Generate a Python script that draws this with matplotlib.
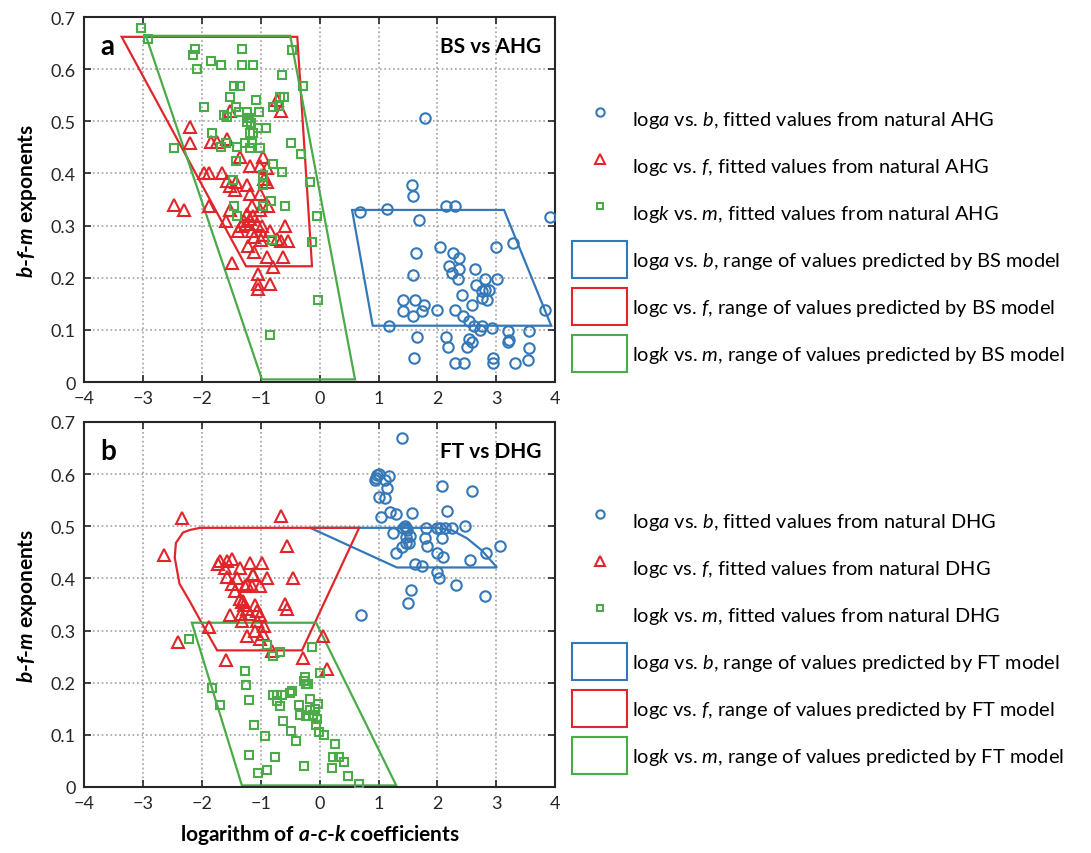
import matplotlib
matplotlib.use('Agg')
import matplotlib.pyplot as plt
from matplotlib.lines import Line2D
from matplotlib.patches import Patch, Polygon

plt.rcParams['font.family'] = ['Lato', 'DejaVu Sans']
plt.rcParams['mathtext.fontset'] = 'custom'
plt.rcParams['mathtext.rm'] = 'Lato'
plt.rcParams['mathtext.it'] = 'Lato:italic'
plt.rcParams['mathtext.bf'] = 'Lato:bold'
plt.rcParams['mathtext.bfit'] = 'Lato:bold:italic'

BLUE = '#3478b8'
RED = '#e0262b'
GREEN = '#4aab48'

# ---- panel a: BS vs AHG (log coefficient, exponent) ----
ahg_ab = [(1.79, 0.506), (1.56, 0.378), (1.58, 0.357), (0.69, 0.327), (1.15, 0.331),
          (2.15, 0.338), (2.29, 0.338), (1.69, 0.311), (3.91, 0.317), (3.29, 0.267),
          (2.04, 0.258), (3.00, 0.258), (1.64, 0.247), (2.27, 0.247), (2.36, 0.237),
          (2.20, 0.222), (2.36, 0.217), (2.63, 0.217), (2.24, 0.210), (1.59, 0.205),
          (2.35, 0.197), (2.81, 0.198), (3.01, 0.197), (2.66, 0.187), (2.75, 0.174),
          (2.80, 0.177), (2.88, 0.177), (2.41, 0.167), (2.75, 0.161), (2.84, 0.157),
          (1.41, 0.157), (1.61, 0.157), (1.77, 0.147), (2.59, 0.148), (1.41, 0.137),
          (1.74, 0.137), (1.99, 0.138), (2.30, 0.138), (3.82, 0.138), (1.59, 0.127),
          (2.44, 0.127), (2.53, 0.117), (2.62, 0.107), (2.76, 0.107), (2.73, 0.100),
          (2.92, 0.103), (1.17, 0.107), (3.20, 0.097), (3.55, 0.097), (1.66, 0.087),
          (2.15, 0.087), (2.53, 0.082), (2.59, 0.077), (3.22, 0.081), (3.20, 0.076),
          (2.17, 0.067), (2.50, 0.067), (3.55, 0.065), (1.60, 0.047), (2.95, 0.047),
          (3.53, 0.043), (2.29, 0.036), (2.45, 0.036), (2.94, 0.036), (3.32, 0.036)]

ahg_cf = [(-0.73, 0.541), (-0.65, 0.520), (-1.53, 0.520), (-2.20, 0.490), (-2.20, 0.458),
          (-1.85, 0.460), (-1.75, 0.460), (-1.57, 0.466), (-1.36, 0.431), (-0.97, 0.431),
          (-1.19, 0.414), (-1.02, 0.414), (-0.89, 0.410), (-1.97, 0.401), (-1.87, 0.401),
          (-1.66, 0.401), (-1.57, 0.386), (-1.42, 0.383), (-1.53, 0.376), (-1.44, 0.368),
          (-1.23, 0.378), (-0.94, 0.390), (-0.89, 0.384), (-1.18, 0.361), (-1.02, 0.361),
          (-2.48, 0.339), (-2.31, 0.329), (-1.87, 0.338), (-1.53, 0.329), (-1.59, 0.309),
          (-1.15, 0.338), (-1.01, 0.329), (-0.87, 0.338), (-1.23, 0.322), (-1.13, 0.319),
          (-1.18, 0.313), (-1.28, 0.309), (-1.25, 0.303), (-1.34, 0.300), (-1.06, 0.303),
          (-1.38, 0.289), (-1.15, 0.289), (-0.98, 0.300), (-0.85, 0.289), (-0.59, 0.300),
          (-1.11, 0.278), (-1.00, 0.272), (-0.96, 0.281), (-0.73, 0.274), (-0.65, 0.271),
          (-0.53, 0.271), (-1.21, 0.260), (-1.11, 0.249), (-1.48, 0.229), (-0.89, 0.239),
          (-0.62, 0.239), (-0.80, 0.220), (-1.04, 0.207), (-1.04, 0.188), (-0.85, 0.188),
          (-1.04, 0.178)]

ahg_km = [(-3.03, 0.679), (-2.91, 0.658), (-2.12, 0.639), (-2.15, 0.628), (-1.31, 0.638),
          (-0.47, 0.637), (-1.85, 0.615), (-1.67, 0.608), (-1.31, 0.608), (-1.14, 0.608),
          (-2.09, 0.601), (-0.64, 0.588), (-1.45, 0.567), (-1.36, 0.567), (-0.29, 0.567),
          (-1.53, 0.547), (-1.08, 0.541), (-0.67, 0.547), (-0.60, 0.547), (-1.96, 0.527),
          (-1.42, 0.527), (-0.80, 0.527), (-0.69, 0.529), (-1.23, 0.517), (-1.03, 0.517),
          (-1.37, 0.517), (-1.63, 0.513), (-1.58, 0.508), (-1.20, 0.506), (-1.24, 0.498),
          (-1.16, 0.497), (-1.04, 0.488), (-0.91, 0.488), (-1.82, 0.478), (-1.19, 0.478),
          (-1.13, 0.478), (-2.47, 0.448), (-1.67, 0.450), (-1.59, 0.458), (-1.27, 0.458),
          (-1.15, 0.458), (-1.41, 0.450), (-1.18, 0.448), (-1.01, 0.448), (-0.49, 0.458),
          (-0.31, 0.437), (-1.42, 0.424), (-0.79, 0.418), (-0.64, 0.403), (-0.17, 0.384),
          (-0.97, 0.397), (-1.47, 0.387), (-0.97, 0.378), (-1.45, 0.338), (-1.40, 0.318),
          (-0.97, 0.338), (-0.83, 0.347), (-0.59, 0.338), (-0.04, 0.318), (-0.81, 0.272),
          (-0.13, 0.268), (-0.03, 0.158), (-0.85, 0.090)]

bs_ab = [(0.55, 0.330), (3.13, 0.330), (3.93, 0.108), (0.90, 0.108)]
bs_cf = [(-3.36, 0.662), (-0.38, 0.662), (-0.13, 0.222), (-1.25, 0.222)]
bs_km = [(-2.95, 0.664), (-0.50, 0.664), (0.60, 0.005), (-0.98, 0.005)]

# ---- panel b: FT vs DHG ----
dhg_ab = [(1.39, 0.669), (0.98, 0.598), (0.95, 0.592), (0.94, 0.588), (1.01, 0.600),
          (1.17, 0.597), (1.11, 0.588), (1.15, 0.573), (2.07, 0.577), (2.58, 0.568),
          (1.00, 0.556), (1.11, 0.554), (2.16, 0.530), (1.20, 0.528), (1.29, 0.523),
          (1.56, 0.526), (1.04, 0.518), (2.47, 0.501), (1.42, 0.497), (1.47, 0.497),
          (1.48, 0.492), (1.45, 0.500), (1.81, 0.497), (1.99, 0.497), (2.04, 0.497),
          (2.12, 0.497), (2.25, 0.497), (1.24, 0.488), (1.53, 0.482), (1.46, 0.479),
          (1.78, 0.478), (2.07, 0.478), (1.47, 0.468), (1.52, 0.468), (1.40, 0.460),
          (1.82, 0.462), (3.06, 0.462), (1.30, 0.448), (2.00, 0.448), (2.09, 0.442),
          (2.82, 0.448), (2.55, 0.436), (1.61, 0.428), (1.74, 0.424), (1.99, 0.412),
          (2.03, 0.401), (2.31, 0.388), (2.80, 0.367), (1.55, 0.377), (1.50, 0.353),
          (0.70, 0.329)]

dhg_cf = [(-2.34, 0.516), (-0.66, 0.520), (-0.56, 0.463), (-2.65, 0.445), (-1.69, 0.434),
          (-1.58, 0.434), (-1.49, 0.437), (-1.72, 0.428), (-1.35, 0.420), (-1.18, 0.430),
          (-0.98, 0.430), (-1.13, 0.409), (-1.61, 0.420), (-1.58, 0.402), (-1.41, 0.400),
          (-1.24, 0.389), (-1.15, 0.386), (-1.01, 0.386), (-0.90, 0.400), (-0.46, 0.400),
          (-1.49, 0.389), (-1.44, 0.375), (-1.35, 0.361), (-1.30, 0.357), (-1.32, 0.354),
          (-0.59, 0.351), (-0.56, 0.341), (-1.13, 0.407), (-1.27, 0.385), (-1.10, 0.349),
          (-1.28, 0.349), (-1.24, 0.341), (-1.34, 0.332), (-1.19, 0.332), (-1.06, 0.338),
          (-1.02, 0.329), (-1.52, 0.330), (-1.32, 0.319), (-1.07, 0.319), (-0.94, 0.309),
          (-1.87, 0.306), (-1.10, 0.300), (-0.97, 0.293), (-1.24, 0.290), (-1.02, 0.284),
          (0.05, 0.290), (-2.40, 0.279), (-0.81, 0.261), (-1.59, 0.244), (-0.28, 0.247),
          (0.12, 0.226)]

dhg_km = [(-2.21, 0.283), (-0.89, 0.272), (-0.67, 0.258), (-0.80, 0.251), (-0.13, 0.268),
          (-1.27, 0.222), (0.01, 0.219), (-1.82, 0.190), (-1.25, 0.196), (-0.25, 0.210),
          (-0.26, 0.204), (-0.24, 0.198), (-0.19, 0.198), (-0.47, 0.185), (-0.50, 0.180),
          (-0.80, 0.176), (-0.73, 0.176), (-0.64, 0.176), (-1.20, 0.167), (-0.16, 0.169),
          (-0.73, 0.164), (-1.69, 0.157), (-0.67, 0.155), (-0.35, 0.157), (-0.03, 0.159),
          (-0.16, 0.148), (-0.08, 0.150), (-0.34, 0.138), (-0.24, 0.137), (-0.11, 0.138),
          (-0.05, 0.130), (-0.62, 0.127), (-0.07, 0.118), (-1.11, 0.118), (-0.49, 0.108),
          (-0.01, 0.106), (0.07, 0.100), (-0.93, 0.098), (-0.41, 0.089), (0.26, 0.083),
          (-1.20, 0.061), (-0.76, 0.058), (0.22, 0.058), (0.32, 0.058), (-0.26, 0.041),
          (0.21, 0.037), (0.41, 0.047), (-0.90, 0.032), (-1.04, 0.027), (0.48, 0.022),
          (0.66, 0.006)]

ft_ab = [(-0.16, 0.497), (2.00, 0.497), (2.25, 0.492), (2.50, 0.477), (2.75, 0.454),
         (3.01, 0.421), (1.31, 0.421)]
ft_cf = [(-2.03, 0.497), (0.67, 0.497), (-0.30, 0.262), (-1.74, 0.262), (-1.98, 0.310),
         (-2.20, 0.355), (-2.38, 0.390), (-2.46, 0.440), (-2.44, 0.468), (-2.32, 0.488),
         (-2.20, 0.493)]
ft_km = [(-2.17, 0.315), (-0.06, 0.315), (1.30, 0.003), (-1.32, 0.003)]

x_ticks = [-4, -3, -2, -1, 0, 1, 2, 3, 4]
y_ticks = [0, 0.1, 0.2, 0.3, 0.4, 0.5, 0.6, 0.7]
y_ticklabels = ['0', '0.1', '0.2', '0.3', '0.4', '0.5', '0.6', '0.7']

fig = plt.figure(figsize=(10.91, 8.54), dpi=100)
ax_a = fig.add_axes([0.077, 0.5515, 0.432, 0.4274])
ax_b = fig.add_axes([0.077, 0.0773, 0.432, 0.4274])


def draw_panel(ax, pts_ab, pts_cf, pts_km, poly_ab, poly_cf, poly_km, letter, title):
    # model ranges
    for poly, col in [(poly_ab, BLUE), (poly_cf, RED), (poly_km, GREEN)]:
        ax.add_patch(Polygon(poly, closed=True, fill=False, edgecolor=col, lw=1.6, zorder=2))
    # fitted values
    ax.plot([p[0] for p in pts_ab], [p[1] for p in pts_ab], 'o', ls='none', ms=7.5,
            mfc='none', mec=BLUE, mew=1.5, zorder=3)
    ax.plot([p[0] for p in pts_cf], [p[1] for p in pts_cf], '^', ls='none', ms=8,
            mfc='none', mec=RED, mew=1.5, zorder=3)
    ax.plot([p[0] for p in pts_km], [p[1] for p in pts_km], 's', ls='none', ms=5.5,
            mfc='none', mec=GREEN, mew=1.5, zorder=3)

    ax.set_xlim(-4, 4)
    ax.set_ylim(0, 0.7)
    ax.set_xticks(x_ticks)
    ax.set_yticks(y_ticks)
    ax.set_yticklabels(y_ticklabels)
    ax.grid(True, ls=':', color='#a0a0a0', lw=1.2)
    ax.set_axisbelow(True)
    ax.tick_params(direction='in', top=True, right=True, length=5, width=1.2,
                   labelsize=13, colors='#262626', pad=6)
    for s in ax.spines.values():
        s.set_linewidth(1.5)
        s.set_color('#262626')
    ax.set_ylabel(r'$\mathbfit{b}$-$\mathbfit{f}$-$\mathbfit{m}$ exponents',
                  fontsize=15, fontweight='bold', labelpad=8)
    ax.text(0.035, 0.92, letter, transform=ax.transAxes, fontsize=20,
            fontweight='bold', va='center', ha='left')
    ax.text(0.97, 0.92, title, transform=ax.transAxes, fontsize=15,
            fontweight='bold', va='center', ha='right')


draw_panel(ax_a, ahg_ab, ahg_cf, ahg_km, bs_ab, bs_cf, bs_km, 'a', 'BS vs AHG')
draw_panel(ax_b, dhg_ab, dhg_cf, dhg_km, ft_ab, ft_cf, ft_km, 'b', 'FT vs DHG')
ax_b.set_xlabel(r'logarithm of $\mathbfit{a}$-$\mathbfit{c}$-$\mathbfit{k}$ coefficients',
                fontsize=15, fontweight='bold', labelpad=8)


def legend_for(model, data, top_px):
    handles = [
        Line2D([], [], marker='o', ls='none', ms=6, mfc='none', mec=BLUE, mew=1.5),
        Line2D([], [], marker='^', ls='none', ms=7, mfc='none', mec=RED, mew=1.5),
        Line2D([], [], marker='s', ls='none', ms=5, mfc='none', mec=GREEN, mew=1.5),
        Patch(facecolor='none', edgecolor=BLUE, lw=1.5),
        Patch(facecolor='none', edgecolor=RED, lw=1.5),
        Patch(facecolor='none', edgecolor=GREEN, lw=1.5),
    ]
    labels = [
        r'log$\mathit{a}$ vs. $\mathit{b}$, fitted values from natural ' + data,
        r'log$\mathit{c}$ vs. $\mathit{f}$, fitted values from natural ' + data,
        r'log$\mathit{k}$ vs. $\mathit{m}$, fitted values from natural ' + data,
        r'log$\mathit{a}$ vs. $\mathit{b}$, range of values predicted by ' + model + ' model',
        r'log$\mathit{c}$ vs. $\mathit{f}$, range of values predicted by ' + model + ' model',
        r'log$\mathit{k}$ vs. $\mathit{m}$, range of values predicted by ' + model + ' model',
    ]
    fs = 14.4
    em = fs * 100 / 72
    # legend box height = em * (0.65 * handleheight + 0.245)
    hh = (37 / em - 0.245) / 0.65
    fig.legend(handles, labels, loc='upper left',
               bbox_to_anchor=(572 / 1091, 1 - top_px / 854),
               frameon=False, fontsize=fs, borderpad=0, borderaxespad=0,
               handlelength=55 / em, handleheight=hh,
               labelspacing=10 / em, handletextpad=5 / em)


legend_for('BS', 'AHG', 101)
legend_for('FT', 'DHG', 503)

fig.savefig('out.png', dpi=100)
